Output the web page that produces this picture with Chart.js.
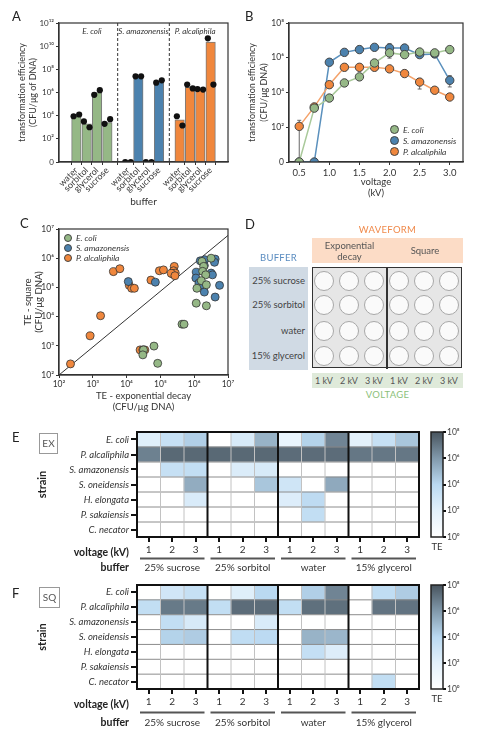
<!DOCTYPE html>
<html>
<head>
<meta charset="utf-8">
<script src="https://cdn.jsdelivr.net/npm/chart.js@4.4.1/dist/chart.umd.min.js"></script>
<style>
  body { margin: 0; background: #fff; font-family: Lato, 'DejaVu Sans', sans-serif; color: #333; }
  #page { position: relative; width: 480px; height: 745px; overflow: hidden; }
  canvas { position: absolute; }
  .abs { position: absolute; white-space: nowrap; }
  .letter { font-size: 13px; color: #222; }
  .leg { position: absolute; font-size: 8.5px; font-style: italic; white-space: nowrap; line-height: 10px; }
  .leg i { display: inline-block; border-radius: 50%; border: 1px solid #444; vertical-align: -1px; margin-right: 4px; }
  .well { position: absolute; width: 18px; height: 18px; border-radius: 50%; background: #fafafa; border: 1.5px solid #a8a8a8; }
  .tag { position: absolute; border: 1px solid #999; color: #555; font-size: 10px; text-align: center; }
</style>
</head>
<body>
<div id="page">
  <canvas id="chartA" width="240" height="210" style="left:0;top:0"></canvas>
  <canvas id="chartB" width="240" height="200" style="left:240px;top:0"></canvas>
  <canvas id="chartC" width="240" height="205" style="left:0;top:210px"></canvas>
  <canvas id="chartE" width="425" height="157" style="left:0;top:418px"></canvas>
  <canvas id="barE" width="55" height="130" style="left:425px;top:425px"></canvas>
  <canvas id="chartF" width="425" height="170" style="left:0;top:575px"></canvas>
  <canvas id="barF" width="55" height="129" style="left:425px;top:578px"></canvas>

  <div class="abs letter" style="left:12px;top:8px">A</div>
  <div class="abs letter" style="left:245px;top:8px">B</div>
  <div class="abs letter" style="left:20px;top:215px">C</div>
  <div class="abs letter" style="left:245px;top:216px">D</div>
  <div class="abs letter" style="left:12px;top:429px">E</div>
  <div class="abs letter" style="left:12px;top:585px">F</div>

  <div class="tag" style="left:39px;top:433px;width:17px;height:19px;line-height:19px">EX</div>
  <div class="tag" style="left:39px;top:587px;width:19px;height:19px;line-height:19px">SQ</div>

  <div id="legendB"></div>
  <div id="legendC"></div>
  <div id="panelD"></div>
</div>

<script>
'use strict';

// ******** DATA  (TE values are log10 of CFU/ug DNA, 0 means nothing grew)

// panel A - buffers per strain
let bufferNames = ['water', 'sorbitol', 'glycerol', 'sucrose'];
let strainNames = ['E. coli', 'S. amazonensis', 'P. alcaliphila'];
let barEcoli = [4.0, 3.3, 6.0, 3.4];
let barSamaz = [0, 7.35, 0, 6.95];
let barPalc = [3.65, 6.45, 6.3, 10.35];
let dotsEcoli = [[3.95, 4.1], [3.5, 3.0], [5.8, 6.2], [3.3, 3.7]];
let dotsSamaz = [[0, 0], [7.4, 7.4], [0, 0], [6.85, 7.05]];
let dotsPalc = [[3.95, 3.15], [6.68, 6.35], [6.3, 6.25], [10.68, 6.68]];

// panel B - voltage sweep
let voltages = [0.5, 0.75, 1.0, 1.25, 1.5, 1.75, 2.0, 2.25, 2.5, 2.75, 3.0];
let voltTicks = [0.5, 1.0, 1.5, 2.0, 2.5, 3.0];
let teEcoliB = [0, 3.1, 3.68, 4.55, 4.9, 5.7, 6.28, 6.18, 6.33, 6.28, 6.47];
let teSamazB = [0, 0, 5.74, 6.31, 6.47, 6.6, 6.56, 6.56, 6.18, 6.22, 4.7];
let tePalcB = [2.05, 3.17, 4.45, 5.45, 5.45, 5.45, 5.36, 5.09, 4.6, 4.13, 3.74];
// [below, above] error in decades
let errEcoliB = [[0, 0], [0.1, 0.1], [0.1, 0.1], [0.1, 0.1], [0.15, 0.15], [0.1, 0.1], [0.3, 0.3], [0.1, 0.1], [0.1, 0.1], [0.1, 0.1], [0.1, 0.1]];
let errSamazB = [[0, 0], [0, 0], [0.1, 0.1], [0.1, 0.1], [0.15, 0.2], [0.1, 0.1], [0.2, 0.25], [0.1, 0.1], [0.15, 0.15], [0.1, 0.1], [0.38, 0.27]];
let errPalcB = [[2.05, 0.35], [0.1, 0.1], [0.1, 0.1], [0.1, 0.1], [0.1, 0.1], [0.1, 0.1], [0.1, 0.1], [0.1, 0.1], [0.4, 0.2], [0.1, 0.1], [0.1, 0.1]];

// panel C - exponential decay (x) vs square (y)
let scatterEcoli = [[6.23, 5.89], [6.28, 5.72], [6.25, 5.55], [6.34, 5.43], [6.5, 6.0], [6.21, 5.23],
  [6.36, 5.09], [6.08, 4.97], [6.06, 4.46], [6.36, 4.37], [5.64, 3.74], [5.7, 3.74],
  [4.81, 2.99], [4.5, 2.86], [4.48, 2.69], [4.92, 2.4]];
let scatterSamaz = [[6.18, 5.91], [6.31, 5.95], [6.62, 5.97], [6.6, 5.86], [6.3, 5.75], [6.06, 5.52],
  [6.05, 5.32], [6.14, 5.15], [6.26, 5.07], [6.5, 5.49], [6.54, 5.43], [6.75, 5.07],
  [6.3, 4.84], [6.62, 4.67], [4.05, 5.2], [4.85, 5.18]];
let scatterPalc = [[3.61, 5.54], [3.8, 5.64], [4.08, 5.07], [4.15, 4.97], [4.23, 4.97], [4.72, 5.25],
  [4.97, 5.57], [5.09, 5.6], [5.41, 5.72], [5.39, 5.57], [5.36, 5.46], [5.44, 5.49],
  [5.32, 5.48], [5.43, 5.4], [3.23, 4.03], [2.92, 3.34], [2.34, 2.38],
  [4.4, 2.86], [4.48, 2.86], [4.54, 2.86]];
let diagonalC = [[2, 2], [7, 6.78]];

// panels E/F - heatmaps, rows = strains, columns = buffer x voltage
let heatStrains = ['E. coli', 'P. alcaliphila', 'S. amazonensis', 'S. oneidensis', 'H. elongata', 'P. sakaiensis', 'C. necator'];
let heatVoltages = ['1', '2', '3', '1', '2', '3', '1', '2', '3', '1', '2', '3'];
let heatBuffers = ['25% sucrose', '25% sorbitol', 'water', '15% glycerol'];
let teEX = [
  [2.2, 3.4, 4.3, 0, 2.6, 5.2, 1.6, 4.2, 6.6, 2.0, 3.4, 4.6],
  [6.7, 7.4, 7.4, 7.4, 7.4, 7.4, 7.3, 7.3, 7.3, 7.0, 7.0, 7.0],
  [0, 3.4, 3.6, 0, 2.4, 2.6, 0, 0, 0, 0, 0, 0],
  [0, 0, 5.4, 0, 0, 4.6, 3.0, 0, 5.5, 0, 0, 0],
  [0, 0, 2.5, 0, 0, 0, 2.3, 3.8, 0, 0, 0, 0],
  [0, 0, 0, 0, 0, 0, 0, 3.6, 0, 0, 0, 0],
  [0, 0, 0, 0, 0, 0, 0, 0, 0, 0, 0, 0]
];
let teSQ = [
  [0, 2.9, 3.4, 0, 2.2, 4.0, 0, 4.3, 6.6, 0, 3.7, 4.4],
  [3.6, 6.9, 6.9, 3.6, 7.3, 7.3, 3.6, 7.2, 7.2, 0, 7.1, 7.1],
  [0, 3.6, 2.6, 0, 0, 2.5, 0, 0, 0, 0, 0, 0],
  [0, 4.2, 4.4, 0, 3.7, 3.9, 0, 5.2, 5.1, 0, 0, 0],
  [0, 0, 0, 0, 0, 0, 0, 3.5, 2.3, 0, 0, 0],
  [0, 0, 0, 0, 0, 0, 0, 0, 0, 0, 0, 0],
  [0, 0, 0, 0, 0, 0, 0, 0, 0, 0, 3.6, 0]
];
let teBarTicks = [0, 2, 4, 6, 8];

// ******** STYLE

let fontFamily = "Lato, 'DejaVu Sans', sans-serif";
Chart.defaults.font.family = fontFamily;
Chart.defaults.color = '#333';
Chart.defaults.animation = false;
Chart.defaults.plugins.legend.display = false;
Chart.defaults.plugins.tooltip.enabled = false;

let fillColors = ['#95b886', '#4c82ae', '#f0873d'];
let lineColors = ['#a9c99a', '#5a90bd', '#f4a26a'];
let heatStops = [[0, [255, 255, 255]], [2, [227, 241, 251]], [4, [186, 217, 241]], [6, [129, 153, 171]], [8, [72, 84, 94]]];

const SUP = { '0': '⁰', '1': '¹', '2': '²', '3': '³', '4': '⁴', '5': '⁵', '6': '⁶', '7': '⁷', '8': '⁸', '9': '⁹' };
function pow10(n) {
  return '10' + String(n).split('').map(ch => SUP[ch]).join('');
}

function teColor(v) {
  for (let i = 1; i < heatStops.length; i++) {
    if (v <= heatStops[i][0]) {
      let a = heatStops[i - 1], b = heatStops[i];
      let t = (v - a[0]) / (b[0] - a[0]);
      let c = a[1].map((ch, k) => Math.round(ch + (b[1][k] - ch) * t));
      return `rgb(${c[0]},${c[1]},${c[2]})`;
    }
  }
  let last = heatStops[heatStops.length - 1][1];
  return `rgb(${last[0]},${last[1]},${last[2]})`;
}

function line(c, x0, y0, x1, y1) {
  c.beginPath();
  c.moveTo(x0, y0);
  c.lineTo(x1, y1);
  c.stroke();
}

function boxPlugin(color, width) {
  return {
    id: 'box',
    afterDraw(chart) {
      let a = chart.chartArea, c = chart.ctx;
      c.save();
      c.strokeStyle = color;
      c.lineWidth = width;
      c.strokeRect(a.left, a.top, a.right - a.left, a.bottom - a.top);
      c.restore();
    }
  };
}

// ************ PANEL A

let barsA = [], barColorsA = [], dotsA = [], tickPosA = [], tickNameA = {};
[barEcoli, barSamaz, barPalc].forEach((vals, g) => {
  let dots = [dotsEcoli, dotsSamaz, dotsPalc][g];
  vals.forEach((v, i) => {
    let x = g * 5 + i + 1;
    barsA.push({ x: x, y: v });
    barColorsA.push(fillColors[g]);
    dotsA.push({ x: x - 0.27, y: dots[i][0] });
    dotsA.push({ x: x + 0.27, y: dots[i][1] });
    tickPosA.push(x);
    tickNameA[x] = bufferNames[i];
  });
});

const groupsA = {
  id: 'groupsA',
  afterDraw(chart) {
    let c = chart.ctx, a = chart.chartArea, xs = chart.scales.x;
    c.save();
    c.strokeStyle = '#333';
    c.lineWidth = 1;
    c.setLineDash([3, 2]);
    [5, 10].forEach(v => {
      let px = xs.getPixelForValue(v);
      line(c, px, a.top, px, a.bottom);
    });
    c.setLineDash([]);
    c.fillStyle = '#333';
    c.font = 'italic 8px ' + fontFamily;
    c.textAlign = 'center';
    c.textBaseline = 'middle';
    strainNames.forEach((s, g) => {
      c.fillText(s, xs.getPixelForValue(g * 5 + 2.5), a.top + 8);
    });
    c.restore();
  }
};

new Chart(document.getElementById('chartA'), {
  type: 'bar',
  data: {
    datasets: [
      { type: 'scatter', data: dotsA, backgroundColor: '#111', borderWidth: 0, pointRadius: 3.1, order: 0 },
      { data: barsA, backgroundColor: barColorsA, borderColor: '#7a7a7a', borderWidth: 1, barThickness: 9.5, order: 1 }
    ]
  },
  options: {
    responsive: false,
    layout: { padding: { top: 23, right: 12, left: 0, bottom: 0 } },
    scales: {
      x: {
        type: 'linear', min: 0, max: 15,
        afterBuildTicks: s => { s.ticks = tickPosA.map(v => ({ value: v })); },
        afterFit: s => { s.height = 48; },
        ticks: { autoSkip: false, maxRotation: 45, minRotation: 45, padding: 0, font: { size: 9 }, callback: v => tickNameA[v] },
        grid: { drawOnChartArea: false, tickLength: 3, color: '#333' },
        border: { color: '#333', width: 1.2 },
        title: { display: true, text: 'buffer', font: { size: 10 }, padding: { top: 0, bottom: 2 } }
      },
      y: {
        min: 0, max: 12,
        afterFit: s => { s.width = 59; },
        ticks: { stepSize: 2, padding: 2, font: { size: 8 }, callback: v => (v === 0 ? '0' : pow10(v)) },
        grid: { drawOnChartArea: false, tickLength: 3, color: '#333' },
        border: { color: '#333', width: 1.2 },
        title: { display: true, text: ['transformation efficiency', '(CFU/μg of DNA)'], font: { size: 9, lineHeight: 1.22 }, padding: { top: 17, bottom: 0 } }
      }
    }
  },
  plugins: [groupsA, boxPlugin('#333', 1.2)]
});

// ************ PANEL B

const errorBars = {
  id: 'errorBars',
  beforeDatasetsDraw(chart) {
    let c = chart.ctx, xs = chart.scales.x, ys = chart.scales.y;
    c.save();
    c.strokeStyle = '#666';
    c.lineWidth = 1;
    chart.data.datasets.forEach(ds => {
      ds.data.forEach((p, i) => {
        let e = ds.errs[i];
        if (!e || (e[0] === 0 && e[1] === 0)) return;
        let px = xs.getPixelForValue(p.x);
        let lo = ys.getPixelForValue(Math.max(0, p.y - e[0]));
        let hi = ys.getPixelForValue(p.y + e[1]);
        line(c, px, lo, px, hi);
        line(c, px - 2, lo, px + 2, lo);
        line(c, px - 2, hi, px + 2, hi);
      });
    });
    c.restore();
  }
};

function seriesB(vals, errs, k) {
  return {
    data: vals.map((v, i) => ({ x: voltages[i], y: v })),
    errs: errs,
    borderColor: lineColors[k],
    borderWidth: 1.5,
    backgroundColor: fillColors[k],
    pointBorderColor: '#444',
    pointBorderWidth: 1,
    pointRadius: 4.2
  };
}

new Chart(document.getElementById('chartB'), {
  type: 'line',
  data: {
    datasets: [
      seriesB(teEcoliB, errEcoliB, 0),
      seriesB(tePalcB, errPalcB, 2),
      seriesB(teSamazB, errSamazB, 1)
    ]
  },
  options: {
    responsive: false,
    layout: { padding: { top: 23, right: 17, left: 0, bottom: 0 } },
    scales: {
      x: {
        type: 'linear', min: 0.33, max: 3.22,
        afterBuildTicks: s => { s.ticks = voltTicks.map(v => ({ value: v })); },
        afterFit: s => { s.height = 38; },
        ticks: { padding: 2, font: { size: 9.5 }, callback: v => v.toFixed(1) },
        grid: { drawOnChartArea: false, tickLength: 3, color: '#333' },
        border: { color: '#333', width: 1.2 },
        title: { display: true, text: ['voltage', '(kV)'], font: { size: 9.5, lineHeight: 1.2 }, padding: { top: 0, bottom: 1 } }
      },
      y: {
        min: 0, max: 8,
        afterFit: s => { s.width = 49; },
        ticks: { stepSize: 2, padding: 2, font: { size: 8.5 }, callback: v => (v === 0 ? '0' : pow10(v)) },
        grid: { drawOnChartArea: false, tickLength: 3, color: '#333' },
        border: { color: '#333', width: 1.2 },
        title: { display: true, text: ['transformation efficiency', '(CFU/μg DNA)'], font: { size: 9, lineHeight: 1.35 }, padding: { top: 6, bottom: 0 } }
      }
    }
  },
  plugins: [errorBars, boxPlugin('#333', 1.2)]
});

// ************ PANEL C

function seriesC(pairs, k) {
  return {
    data: pairs.map(p => ({ x: p[0], y: p[1] })),
    backgroundColor: fillColors[k],
    borderColor: '#333',
    borderWidth: 0.8,
    pointRadius: 4,
    order: 1
  };
}

new Chart(document.getElementById('chartC'), {
  type: 'scatter',
  data: {
    datasets: [
      { type: 'line', data: diagonalC.map(p => ({ x: p[0], y: p[1] })), borderColor: '#333', borderWidth: 1, pointRadius: 0, order: 5 },
      seriesC(scatterEcoli, 0),
      seriesC(scatterSamaz, 1),
      seriesC(scatterPalc, 2)
    ]
  },
  options: {
    responsive: false,
    layout: { padding: { top: 19, right: 12, left: 0, bottom: 0 } },
    scales: {
      x: {
        type: 'linear', min: 2, max: 7,
        afterFit: s => { s.height = 40; },
        ticks: { stepSize: 1, padding: 1, font: { size: 8.5 }, callback: v => pow10(v) },
        grid: { drawOnChartArea: false, tickLength: 3, color: '#333' },
        border: { color: '#333', width: 1.2 },
        title: { display: true, text: ['TE - exponential decay', '(CFU/μg DNA)'], font: { size: 9.5, lineHeight: 1.2 }, padding: { top: 0, bottom: 2 } }
      },
      y: {
        min: 2, max: 7,
        afterFit: s => { s.width = 59; },
        ticks: { stepSize: 1, padding: 2, font: { size: 8.5 }, callback: v => pow10(v) },
        grid: { drawOnChartArea: false, tickLength: 3, color: '#333' },
        border: { color: '#333', width: 1.2 },
        title: { display: true, text: ['TE - square', '(CFU/μg DNA)'], font: { size: 9.5, lineHeight: 1.2 }, padding: { top: 22, bottom: 0 } }
      }
    }
  },
  plugins: [boxPlugin('#333', 1.2)]
});

// ************ LEGENDS (B and C)

function buildLegend(id, left, top, step, dot) {
  let box = document.getElementById(id);
  strainNames.forEach((s, k) => {
    let d = document.createElement('div');
    d.className = 'leg';
    d.style.left = left + 'px';
    d.style.top = (top + k * step) + 'px';
    d.innerHTML = `<i style="background:${fillColors[k]};width:${dot}px;height:${dot}px"></i>${s}`;
    box.appendChild(d);
  });
}
buildLegend('legendB', 390, 125, 11, 7);
buildLegend('legendC', 64, 233, 10, 6);

// ************ PANEL D (plate layout diagram)

function addDiv(parent, css, html) {
  let d = document.createElement('div');
  d.className = 'abs';
  d.style.cssText += css;
  if (html) d.innerHTML = html;
  parent.appendChild(d);
  return d;
}

let panelD = document.getElementById('panelD');
let wellX = [324, 349, 374, 399, 424, 449];
let wellY = [281, 305, 331, 356];
addDiv(panelD, 'left:312px;top:224px;width:151px;text-align:center;font-size:9.5px;color:#f08a4b;letter-spacing:0.3px', 'WAVEFORM');
let wave = addDiv(panelD, 'left:312px;top:238px;width:151px;height:25px;background:#fcdcc6;font-size:9.5px;color:#555;line-height:11px');
addDiv(wave, 'left:0;top:2px;width:75px;text-align:center', 'Exponential<br>decay');
addDiv(wave, 'left:75px;top:7px;width:76px;text-align:center', 'Square');
addDiv(panelD, 'left:249px;top:252px;width:59px;text-align:center;font-size:9.5px;color:#5a8cc0;letter-spacing:0.3px', 'BUFFER');
let buf = addDiv(panelD, 'left:249px;top:267px;width:59px;height:103px;background:#d0dae4;font-size:9.5px;color:#444');
heatBuffers.forEach((b, i) => {
  addDiv(buf, `right:3px;top:${wellY[i] - 267 - 6}px;text-align:right`, b);
});
addDiv(panelD, 'left:312px;top:267px;width:148px;height:99px;background:#e6e6e6;border:1.5px solid #333');
addDiv(panelD, 'left:386px;top:267px;width:1.5px;height:102px;background:#333');
wellY.forEach(y => {
  wellX.forEach(x => {
    let w = document.createElement('div');
    w.className = 'well';
    w.style.left = (x - 10.5) + 'px';
    w.style.top = (y - 10.5) + 'px';
    panelD.appendChild(w);
  });
});
let volt = addDiv(panelD, 'left:312px;top:373px;width:151px;height:15px;background:#dfeada;font-size:9px;color:#555');
wellX.forEach((x, i) => {
  addDiv(volt, `left:${x - 312 - 12}px;top:2px;width:24px;text-align:center`, heatVoltages[i % 3] + ' kV');
});
addDiv(panelD, 'left:312px;top:389px;width:151px;text-align:center;font-size:9.5px;color:#8cbf7a;letter-spacing:0.3px', 'VOLTAGE');

// ************ PANELS E/F (heatmaps)

function heatDecor(tickDy, lineDy, bufDy) {
  return {
    id: 'heatDecor',
    afterDatasetsDraw(chart) {
      let c = chart.ctx, a = chart.chartArea, xs = chart.scales.x, ys = chart.scales.y;
      let half = (xs.getPixelForValue(1) - xs.getPixelForValue(0)) / 2;
      c.save();
      c.lineWidth = 1;
      c.strokeStyle = '#8c8c8c';
      for (let r = 1; r < heatStrains.length; r++) {
        let py = ys.getPixelForValue(r);
        line(c, a.left, py, a.right, py);
      }
      c.strokeStyle = '#c2c2c2';
      for (let k = 1; k < heatVoltages.length; k++) {
        if (k % 3 === 0) continue;
        let px = xs.getPixelForValue(k) - half;
        line(c, px, a.top, px, a.bottom);
      }
      c.strokeStyle = '#111';
      c.lineWidth = 2;
      [3, 6, 9].forEach(k => {
        let px = xs.getPixelForValue(k) - half;
        line(c, px, a.top, px, a.bottom);
      });
      c.strokeRect(a.left, a.top, a.right - a.left, a.bottom - a.top);

      // axis captions under the columns
      c.fillStyle = '#222';
      c.textBaseline = 'middle';
      c.textAlign = 'right';
      c.font = 'bold 10.5px ' + fontFamily;
      c.fillText('voltage (kV)', a.left - 8, a.bottom + tickDy);
      c.fillText('buffer', a.left - 8, a.bottom + bufDy);
      c.textAlign = 'center';
      c.font = '10px ' + fontFamily;
      c.strokeStyle = '#555';
      c.lineWidth = 2;
      heatBuffers.forEach((b, g) => {
        let x0 = xs.getPixelForValue(g * 3) - half + 3;
        let x1 = xs.getPixelForValue(g * 3 + 2) + half - 3;
        line(c, x0, a.bottom + lineDy, x1, a.bottom + lineDy);
        c.fillStyle = '#333';
        c.fillText(b, (x0 + x1) / 2, a.bottom + bufDy);
      });
      c.restore();
    }
  };
}

function heatmap(id, values, padTop, axisH, captions) {
  let datasets = [];
  for (let r = heatStrains.length - 1; r >= 0; r--) {
    datasets.push({
      data: values[r].map(() => 1),
      backgroundColor: values[r].map(teColor),
      borderWidth: 0,
      barPercentage: 1,
      categoryPercentage: 1
    });
  }
  let n = heatStrains.length;
  new Chart(document.getElementById(id), {
    type: 'bar',
    data: { labels: heatVoltages, datasets: datasets },
    options: {
      responsive: false,
      layout: { padding: { top: padTop, right: 6, left: 0, bottom: 0 } },
      scales: {
        x: {
          stacked: true,
          afterFit: s => { s.height = axisH; },
          ticks: { padding: 2, font: { size: 10 }, color: '#333' },
          grid: { offset: false, drawOnChartArea: false, tickLength: 5, color: '#111', lineWidth: 2 },
          border: { display: false }
        },
        y: {
          stacked: true, min: 0, max: n,
          afterBuildTicks: s => { s.ticks = heatStrains.map((_, i) => ({ value: i + 0.5 })); },
          afterFit: s => { s.width = 137; },
          ticks: { padding: 2, font: { size: 9.5, style: 'italic' }, color: '#333', callback: v => heatStrains[n - 1 - Math.floor(v)] },
          grid: { drawOnChartArea: false, tickLength: 6, color: '#111', lineWidth: 2 },
          border: { display: false },
          title: { display: true, text: 'strain', color: '#222', font: { size: 11, weight: 'bold' }, padding: { top: 36, bottom: 0 } }
        }
      }
    },
    plugins: [heatDecor(captions[0], captions[1], captions[2])]
  });
}

function colorBar(id) {
  new Chart(document.getElementById(id), {
    type: 'bar',
    data: {
      labels: [''],
      datasets: [{
        data: [[teBarTicks[0], teBarTicks[teBarTicks.length - 1]]],
        barPercentage: 1,
        categoryPercentage: 1,
        backgroundColor: ctx => {
          let a = ctx.chart.chartArea;
          if (!a) return '#fff';
          let g = ctx.chart.ctx.createLinearGradient(0, a.bottom, 0, a.top);
          heatStops.forEach(s => g.addColorStop(s[0] / 8, teColor(s[0])));
          return g;
        }
      }]
    },
    options: {
      responsive: false,
      layout: { padding: { top: 7, right: 0, left: 6, bottom: 0 } },
      scales: {
        x: {
          afterFit: s => { s.height = 18; },
          ticks: { display: false },
          grid: { display: false },
          border: { display: false },
          title: { display: true, text: 'TE', font: { size: 9.5 }, padding: { top: 0, bottom: 2 } }
        },
        y: {
          position: 'right', min: 0, max: 8,
          afterBuildTicks: s => { s.ticks = teBarTicks.map(v => ({ value: v })); },
          afterFit: s => { s.width = 37; },
          ticks: { padding: 1, font: { size: 8.5 }, color: '#444', callback: v => pow10(v) },
          grid: { drawOnChartArea: false, tickLength: 3, color: '#111', lineWidth: 2 },
          border: { display: false }
        }
      }
    },
    plugins: [boxPlugin('#222', 1.5)]
  });
}

heatmap('chartE', teEX, 14, 38, [15.5, 21.5, 30.5]);
colorBar('barE');
heatmap('chartF', teSQ, 10, 56, [16, 23.5, 33.5]);
colorBar('barF');
</script>
</body>
</html>
